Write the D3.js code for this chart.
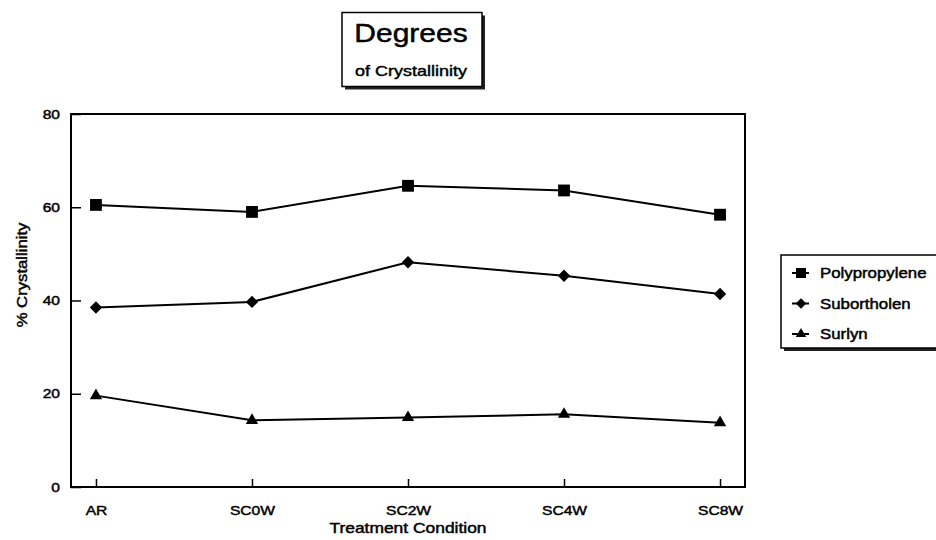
<!DOCTYPE html>
<html>
<head>
<meta charset="utf-8">
<script src="https://cdn.jsdelivr.net/npm/d3@7"></script>
<style>
  body { margin: 0; background: #fff; }
  svg { display: block; font-family: "Liberation Sans", Arial, sans-serif; }
  svg text { stroke: #000; stroke-width: 0.45px; fill: #000; }
</style>
</head>
<body>
<div id="chart"></div>
<script>
const categories = ["AR", "SC0W", "SC2W", "SC4W", "SC8W"];
const polypropylene = [60.5, 59.0, 64.6, 63.6, 58.4];
const subortholen = [38.5, 39.7, 48.2, 45.3, 41.4];
const surlyn = [19.6, 14.3, 14.9, 15.6, 13.8];
const yTicks = [0, 20, 40, 60, 80];

const seriesNames = ["Polypropylene", "Subortholen", "Surlyn"];
const seriesValues = [polypropylene, subortholen, surlyn];

const w = 936, h = 540;
const plot = {left: 71, right: 745, top: 114, bottom: 487};
const svg = d3.select("#chart").append("svg").attr("width", w).attr("height", h);

// the scanned original is a bit wide, so text gets stretched sideways
const stretch = (sel, k = 1.2) => sel.each(function() {
    const len = this.getComputedTextLength();
    d3.select(this).attr("textLength", len * k).attr("lengthAdjust", "spacingAndGlyphs");
});

const x = d3.scalePoint().domain(categories).range([plot.left, plot.right]).padding(0.16);
const y = d3.scaleLinear().domain([0, 80]).range([plot.bottom, plot.top]);

// marker shapes
const sym = {
    Polypropylene: d3.symbol().type(d3.symbolSquare).size(140)(),
    Subortholen: d3.symbol().type(d3.symbolSquare).size(76)(),
    Surlyn: d3.symbol().type(d3.symbolTriangle).size(66)()
};
const rot = {Polypropylene: 0, Subortholen: 45, Surlyn: 0};

// axes
const yAxis = svg.append("g").attr("transform", `translate(${plot.left},0)`)
    .call(d3.axisLeft(y).tickValues(yTicks).tickSize(-10).tickPadding(11));
const xAxis = svg.append("g").attr("transform", `translate(0,${plot.bottom})`)
    .call(d3.axisBottom(x).tickSize(-8).tickPadding(19));
[yAxis, xAxis].forEach(a => {
    a.select(".domain").remove();
    a.selectAll(".tick line").attr("stroke", "#000").attr("stroke-width", 1.5);
    a.selectAll("text").attr("fill", "#000").style("font-size", "13px")
        .style("font-family", "'Liberation Sans', Arial, sans-serif");
});
stretch(yAxis.selectAll("text"));
stretch(xAxis.selectAll("text"));

// plot frame
svg.append("rect")
    .attr("x", plot.left).attr("y", plot.top)
    .attr("width", plot.right - plot.left).attr("height", plot.bottom - plot.top)
    .attr("fill", "none").attr("stroke", "#000").attr("stroke-width", 2);

// lines + markers
const line = d3.line().x((d, i) => x(categories[i])).y(d => y(d));
seriesNames.forEach((name, s) => {
    svg.append("path").datum(seriesValues[s])
        .attr("d", line).attr("fill", "none").attr("stroke", "#000").attr("stroke-width", 2);
    svg.selectAll(".m" + s).data(seriesValues[s]).join("path")
        .attr("class", "m" + s)
        .attr("d", sym[name])
        .attr("transform", (d, i) => `translate(${x(categories[i])},${y(d)}) rotate(${rot[name]})`)
        .attr("fill", "#000");
});

// axis titles
svg.append("text").attr("x", (plot.left + plot.right) / 2).attr("y", 533)
    .attr("text-anchor", "middle").style("font-size", "14.5px").text("Treatment Condition")
    .call(stretch);
svg.append("text").attr("transform", "translate(27,275) rotate(-90)")
    .attr("text-anchor", "middle").style("font-size", "14.5px").text("% Crystallinity")
    .call(stretch, 1.15);

// title box with drop shadow
const tb = {x: 342, y: 12.5, w: 140, h: 74};
svg.append("rect").attr("x", tb.x + 3).attr("y", tb.y + 3).attr("width", tb.w).attr("height", tb.h).attr("fill", "#222");
svg.append("rect").attr("x", tb.x).attr("y", tb.y).attr("width", tb.w).attr("height", tb.h)
    .attr("fill", "#fff").attr("stroke", "#000").attr("stroke-width", 1.5);
svg.append("text").attr("x", 411).attr("y", 41.5).attr("text-anchor", "middle")
    .style("font-size", "25px").text("Degrees").call(stretch);
svg.append("text").attr("x", 411).attr("y", 75.5).attr("text-anchor", "middle")
    .style("font-size", "15px").text("of Crystallinity").call(stretch);

// legend
const lg = {x: 781, y: 255, w: 170, h: 93};
svg.append("rect").attr("x", lg.x + 3).attr("y", lg.y + 3).attr("width", lg.w).attr("height", lg.h).attr("fill", "#222");
svg.append("rect").attr("x", lg.x).attr("y", lg.y).attr("width", lg.w).attr("height", lg.h)
    .attr("fill", "#fff").attr("stroke", "#000").attr("stroke-width", 1.5);
const rowY = d3.scalePoint().domain(seriesNames).range([273, 334]);
const items = svg.selectAll(".leg").data(seriesNames).join("g")
    .attr("class", "leg").attr("transform", d => `translate(0,${rowY(d)})`);
items.append("line").attr("x1", 792).attr("x2", 809).attr("stroke", "#000").attr("stroke-width", 2);
items.append("path").attr("d", d => sym[d]).attr("transform", d => `translate(801,0) rotate(${rot[d]}) scale(0.85)`).attr("fill", "#000");
items.append("text").attr("x", 820).attr("y", 5).style("font-size", "14px").text(d => d).call(stretch);
</script>
</body>
</html>
